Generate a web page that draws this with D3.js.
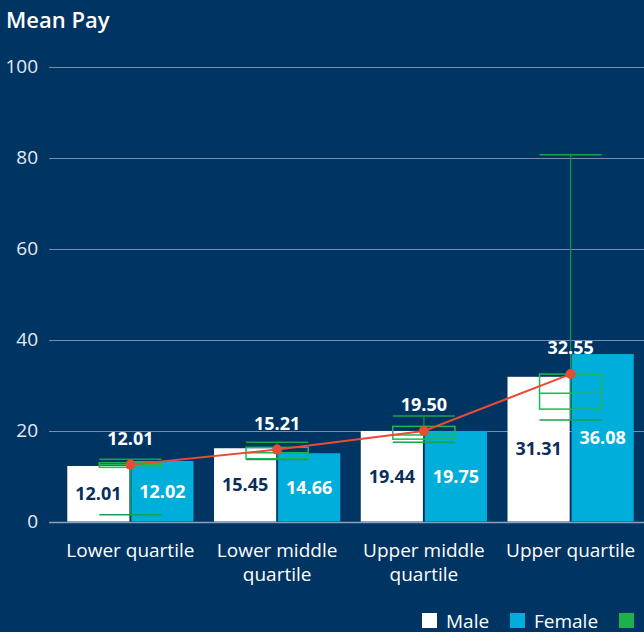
<!DOCTYPE html>
<html>
<head>
<meta charset="utf-8">
<script src="https://cdn.jsdelivr.net/npm/d3@7"></script>
<style>
  body { margin: 0; background: #003462; }
  svg { display: block; font-family: "Open Sans", sans-serif; }
</style>
</head>
<body>
<div id="chart"></div>
<script>
// data
var categories = ["Lower quartile", "Lower middle\nquartile", "Upper middle\nquartile", "Upper quartile"];
var maleValues = [12.2, 16.1, 19.9, 31.8];
var femaleValues = [13.3, 15.0, 19.9, 36.8];
var maleLabels = ["12.01", "15.45", "19.44", "31.31"];
var femaleLabels = ["12.02", "14.66", "19.75", "36.08"];
var lineValues = [12.5, 15.8, 19.9, 32.4];
var lineLabels = ["12.01", "15.21", "19.50", "32.55"];
// box plot: high, q3, median, q1, low
var boxHigh = [13.7, 17.4, 23.2, 80.6];
var boxQ3 = [12.9, 16.3, 20.9, 32.4];
var boxMedian = [12.5, 15.1, 19.0, 28.2];
var boxQ1 = [11.9, 13.8, 18.1, 24.7];
var boxLow = [1.5, 13.6, 17.4, 22.3];
var yTicks = [0, 20, 40, 60, 80, 100];
var legendItems = ["Male", "Female", "Range"];

var width = 644, height = 632;
var margin = { top: 67, right: 0, bottom: 110, left: 49 };

var svg = d3.select("#chart").append("svg")
    .attr("width", width)
    .attr("height", height);

svg.append("rect").attr("width", width).attr("height", height).attr("fill", "#003462");

var y = d3.scaleLinear().domain([0, 100]).range([521.5, 66.5]);

var x0 = d3.scaleBand().domain(categories).range([57, 644]).paddingInner(0.14).paddingOuter(0.07);
var x1 = d3.scaleBand().domain(["male", "female"]).range([0, x0.bandwidth()]).paddingInner(0.03);

// title
svg.append("text")
    .attr("x", 6).attr("y", 28)
    .attr("fill", "#ffffff")
    .style("font-size", "22px")
    .style("font-weight", 600)
    .text("Mean Pay");

// grid + y labels
svg.selectAll(".grid").data(yTicks).enter().append("line")
    .attr("x1", margin.left).attr("x2", width)
    .attr("y1", function (d) { return Math.round(y(d)) + 0.5; })
    .attr("y2", function (d) { return Math.round(y(d)) + 0.5; })
    .attr("stroke", function (d) { return d === 0 ? "#8aa0bb" : "#7390b0"; })
    .attr("stroke-width", function (d) { return d === 0 ? 1.5 : 1; });

svg.selectAll(".ylab").data(yTicks).enter().append("text")
    .attr("x", 38).attr("y", function (d) { return y(d); })
    .attr("text-anchor", "end")
    .attr("dy", "0.34em")
    .attr("fill", "#e4ebf3")
    .style("font-size", "19px")
    .text(function (d) { return d; });

// bars
var groups = svg.selectAll(".grp").data(categories).enter().append("g")
    .attr("transform", function (d) { return "translate(" + x0(d) + ",0)"; });

groups.append("rect")
    .attr("x", x1("male"))
    .attr("y", function (d, i) { return y(maleValues[i]); })
    .attr("width", x1.bandwidth())
    .attr("height", function (d, i) { return y(0) - y(maleValues[i]); })
    .attr("fill", "#ffffff");

groups.append("rect")
    .attr("x", x1("female"))
    .attr("y", function (d, i) { return y(femaleValues[i]); })
    .attr("width", x1.bandwidth())
    .attr("height", function (d, i) { return y(0) - y(femaleValues[i]); })
    .attr("fill", "#00aedb");

// bar labels
groups.append("text")
    .attr("x", x1("male") + x1.bandwidth() / 2)
    .attr("y", function (d, i) { return (y(maleValues[i]) + y(0)) / 2; })
    .attr("dy", "0.35em")
    .attr("text-anchor", "middle")
    .attr("fill", "#0b2d5a")
    .style("font-size", "18px")
    .style("font-weight", 700)
    .text(function (d, i) { return maleLabels[i]; });

groups.append("text")
    .attr("x", x1("female") + x1.bandwidth() / 2)
    .attr("y", function (d, i) { return (y(femaleValues[i]) + y(0)) / 2; })
    .attr("dy", "0.35em")
    .attr("text-anchor", "middle")
    .attr("fill", "#ffffff")
    .style("font-size", "18px")
    .style("font-weight", 700)
    .text(function (d, i) { return femaleLabels[i]; });

// box plots
var cx = function (d) { return x0(d) + x0.bandwidth() / 2; };
var bw = x1.bandwidth();

var boxes = svg.selectAll(".box").data(categories).enter().append("g");

boxes.append("line")
    .attr("x1", cx).attr("x2", cx)
    .attr("y1", function (d, i) { return y(boxHigh[i]); })
    .attr("y2", function (d, i) { return y(boxLow[i]); })
    .attr("stroke", "#139a4a").attr("stroke-width", 1.2);

boxes.append("rect")
    .attr("x", function (d) { return cx(d) - bw / 2; })
    .attr("y", function (d, i) { return y(boxQ3[i]); })
    .attr("width", bw)
    .attr("height", function (d, i) { return y(boxQ1[i]) - y(boxQ3[i]); })
    .attr("fill", "none")
    .attr("stroke", "#1db954").attr("stroke-width", 1.5);

[boxHigh, boxMedian, boxLow].forEach(function (arr) {
    boxes.append("line")
        .attr("x1", function (d) { return cx(d) - bw / 2; })
        .attr("x2", function (d) { return cx(d) + bw / 2; })
        .attr("y1", function (d, i) { return y(arr[i]); })
        .attr("y2", function (d, i) { return y(arr[i]); })
        .attr("stroke", arr === boxMedian ? "#1db954" : "#16a24e")
        .attr("stroke-width", 1.5);
});

// mean line
var line = d3.line()
    .x(function (d, i) { return cx(categories[i]); })
    .y(function (d) { return y(d); });

svg.append("path")
    .datum(lineValues)
    .attr("d", line)
    .attr("fill", "none")
    .attr("stroke", "#ea4a36")
    .attr("stroke-width", 2);

svg.selectAll(".dot").data(lineValues).enter().append("circle")
    .attr("cx", function (d, i) { return cx(categories[i]); })
    .attr("cy", function (d) { return y(d); })
    .attr("r", 5)
    .attr("fill", "#ea4a36");

svg.selectAll(".meanlab").data(lineValues).enter().append("text")
    .attr("x", function (d, i) { return cx(categories[i]); })
    .attr("y", function (d) { return y(d) - 26; })
    .attr("dy", "0.35em")
    .attr("text-anchor", "middle")
    .attr("fill", "#ffffff")
    .style("font-size", "18px")
    .style("font-weight", 700)
    .text(function (d, i) { return lineLabels[i]; });

// x labels
var xl = svg.selectAll(".xlab").data(categories).enter().append("text")
    .attr("x", cx)
    .attr("y", 557)
    .attr("text-anchor", "middle")
    .attr("fill", "#ffffff")
    .style("font-size", "19px");

xl.selectAll("tspan").data(function (d) { return d.split("\n"); }).enter().append("tspan")
    .attr("x", function () { return cx(d3.select(this.parentNode).datum()); })
    .attr("dy", function (d, i) { return i === 0 ? 0 : 24; })
    .text(function (d) { return d; });

// legend
var legendColors = ["#ffffff", "#00aedb", "#1db14a"];
var legendX = [422, 510, 619];
var lg = svg.selectAll(".leg").data(legendItems).enter().append("g")
    .attr("transform", function (d, i) { return "translate(" + legendX[i] + ",613)"; });
lg.append("rect").attr("width", 15).attr("height", 15)
    .attr("fill", function (d, i) { return legendColors[i]; });
lg.append("text").attr("x", 24).attr("y", 14.5)
    .attr("fill", "#ffffff")
    .style("font-size", "19px")
    .text(function (d) { return d; });
</script>
</body>
</html>
